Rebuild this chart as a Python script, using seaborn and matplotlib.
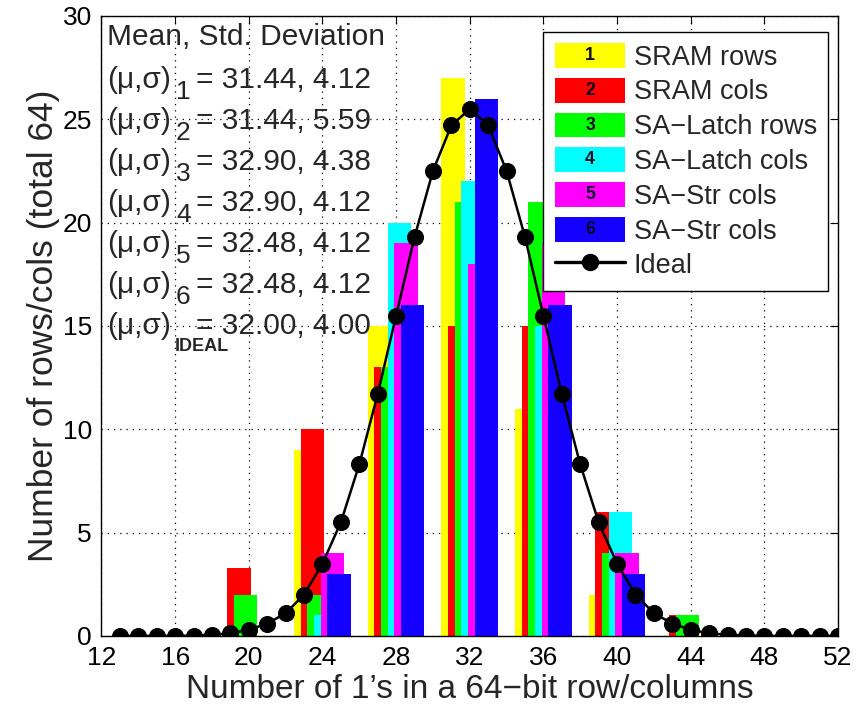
import matplotlib
matplotlib.use("Agg")
import matplotlib.pyplot as plt
import numpy as np
import pandas as pd
import seaborn as sns
from matplotlib.patches import Patch, Rectangle
from matplotlib.lines import Line2D
from matplotlib.text import Text
from matplotlib.legend_handler import HandlerBase

# ---------------- data ----------------
bin_centers = [20, 24, 28, 32, 36, 40, 44]
series_names = ["SRAM rows", "SRAM cols", "SA\u2212Latch rows",
                "SA\u2212Latch cols", "SA\u2212Str cols", "SA\u2212Str cols"]
sram_rows = [0, 9, 15, 27, 11, 2, 0]
sram_cols = [3.3, 10, 13, 15, 15, 6, 1]
salatch_rows = [2, 2, 13, 21, 21, 4, 1]
salatch_cols = [0, 1, 20, 22, 15, 6, 0]
sastr_cols_5 = [0, 4, 19, 18, 19, 4, 0]
sastr_cols_6 = [0, 3, 16, 26, 16, 3, 0]
series_values = [sram_rows, sram_cols, salatch_rows, salatch_cols, sastr_cols_5, sastr_cols_6]
series_colors = ["#FFFF00", "#FF0000", "#00FF00", "#00FFFF", "#FF00FF", "#1400FF"]

ideal_x = [13, 14, 15, 16, 17, 18, 19, 20, 21, 22, 23, 24, 25, 26, 27, 28, 29, 30, 31, 32,
           33, 34, 35, 36, 37, 38, 39, 40, 41, 42, 43, 44, 45, 46, 47, 48, 49, 50, 51, 52]
ideal_y = [0, 0, 0, 0, 0.02, 0.06, 0.13, 0.3, 0.6, 1.1, 2.0, 3.5, 5.5, 8.3, 11.7, 15.5, 19.3, 22.5, 24.7, 25.5,
           24.7, 22.5, 19.3, 15.5, 11.7, 8.3, 5.5, 3.5, 2.0, 1.1, 0.6, 0.3, 0.13, 0.06, 0.02, 0, 0, 0, 0, 0]

stat_subs = ["1", "2", "3", "4", "5", "6", "IDEAL"]
stat_means = ["31.44", "31.44", "32.90", "32.90", "32.48", "32.48", "32.00"]
stat_stds = ["4.12", "5.59", "4.38", "4.12", "4.12", "4.12", "4.00"]

x_ticks = [12, 16, 20, 24, 28, 32, 36, 40, 44, 48, 52]
y_ticks = [0, 5, 10, 15, 20, 25, 30]

# ---------------- style ----------------
sns.set_style("white")
plt.rcParams["font.family"] = ["Liberation Sans", "DejaVu Sans"]

fig = plt.figure(figsize=(8.66, 7.09), dpi=100)
ax = fig.add_axes([0.1172, 0.1030, 0.8505, 0.8745])

bar_step = 0.36
for i, (vals, col) in enumerate(zip(series_values, series_colors)):
    off = (i - 2.5) * bar_step
    df = pd.DataFrame({"x": [c + off for c in bin_centers], "y": vals})
    sns.barplot(data=df, x="x", y="y", native_scale=True, orient="x", width=0.32,
                color=col, saturation=1, errorbar=None, linewidth=0, ax=ax)

sns.lineplot(x=ideal_x, y=ideal_y, color="black", marker="o", markersize=11.5,
             markeredgecolor="black", linewidth=1.8, ax=ax, zorder=5)

ax.set_xlim(12, 52)
ax.set_ylim(0, 30)
ax.set_xticks(x_ticks)
ax.set_yticks(y_ticks)
ax.set_xticklabels([str(t) for t in x_ticks])
ax.set_yticklabels([str(t) for t in y_ticks])
ax.grid(True, linestyle=(0, (1, 4)), color="black", linewidth=0.9)
ax.set_axisbelow(True)
ax.tick_params(direction="in", top=True, right=True, length=6, width=0.8,
               labelsize=19, pad=7, colors="black")
for s in ax.spines.values():
    s.set_visible(True)
    s.set_color("black")
    s.set_linewidth(1.0)

ax.set_xlabel("Number of 1\u2019s in a 64\u2212bit row/columns", fontsize=24, labelpad=3)
ax.set_ylabel("Number of rows/cols (total 64)", fontsize=25.5, labelpad=2)

# ---------------- statistics text ----------------
fs = 21.5
ax.text(12.28, 29.0, "Mean, Std. Deviation", fontsize=fs, va="center", ha="left", zorder=6)
for k, (sub, m, sd) in enumerate(zip(stat_subs, stat_means, stat_stds)):
    y = 26.9 - 1.98 * k
    ax.text(12.28, y, "(\u03bc,\u03c3)", fontsize=fs, va="center", ha="left", zorder=6)
    if sub == "IDEAL":
        ax.text(16.0, y - 1.0, sub, fontsize=13, fontweight="bold", va="center", ha="left", zorder=6)
    else:
        ax.text(16.05, y - 0.6, sub, fontsize=19, va="center", ha="left", zorder=6)
    ax.text(17.12, y, f"= {m}, {sd}", fontsize=fs, va="center", ha="left", zorder=6)


# ---------------- legend ----------------
class NumberedPatchHandler(HandlerBase):
    def __init__(self, num, color):
        super().__init__()
        self.num = num
        self.color = color

    def create_artists(self, legend, orig_handle, xdescent, ydescent, width, height, fontsize, trans):
        r = Rectangle((-xdescent, -ydescent), width, height, facecolor=self.color,
                      edgecolor="none", transform=trans)
        t = Text(-xdescent + width / 2, -ydescent + height / 2, self.num, ha="center", va="center",
                 fontsize=fontsize * 0.65, fontweight="bold", color="#0a0a20", transform=trans)
        return [r, t]


handles = [Patch(facecolor=c) for c in series_colors]
handler_map = {h: NumberedPatchHandler(str(i + 1), c) for i, (h, c) in enumerate(zip(handles, series_colors))}
handles.append(Line2D([0], [0], color="black", marker="o", markersize=11.5, linewidth=2.4))
labels = series_names + ["Ideal"]

leg = ax.legend(handles, labels, loc="upper right", bbox_to_anchor=(0.9868, 0.9747),
                borderaxespad=0, fontsize=19.5, handlelength=2.6, handleheight=1.04,
                labelspacing=0.26, handletextpad=0.31, borderpad=0.42, fancybox=False,
                framealpha=1, edgecolor="black", handler_map=handler_map)
leg.get_frame().set_linewidth(1.0)
leg.set_zorder(10)

fig.savefig("out.png", dpi=100)
